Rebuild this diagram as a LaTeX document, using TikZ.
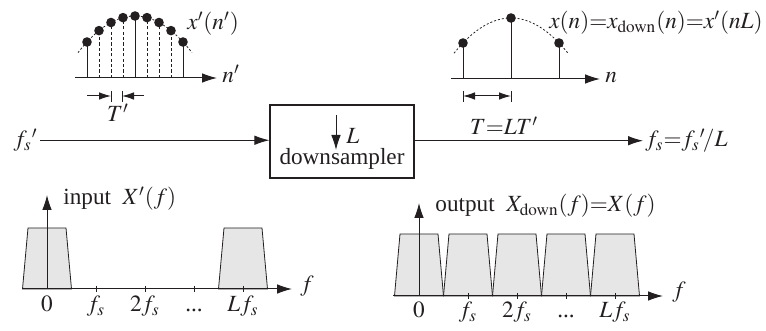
\documentclass[tikz,border=0pt]{standalone}
\usepackage{mathptmx}
\usepackage{fontspec}
\setmainfont{Liberation Serif}
\usetikzlibrary{arrows.meta}
\definecolor{Ink}{HTML}{231F20}
\definecolor{Band}{HTML}{E6E6E6}
\tikzset{
  >={Latex[length=7.5pt,width=4.8pt]},
  every node/.style={text=Ink, inner sep=1pt, font=\fontsize{11.6}{13}\selectfont},
  axis/.style={->, draw=Ink, line width=0.5pt},
  stem/.style={draw=Ink, line width=0.5pt},
  dstem/.style={draw=Ink, line width=0.5pt, dash pattern=on 1.6pt off 1.1pt},
  envelope/.style={draw=Ink, line width=0.4pt, dash pattern=on 1pt off 1pt},
  band/.style={draw=Ink, fill=Band, line width=0.4pt},
  tick/.style={draw=Ink, line width=0.4pt},
  spacing/.style={draw=Ink, line width=0.5pt},
  blockbox/.style={draw=Ink, line width=0.6pt, minimum width=72pt, minimum height=36.5pt},
}

\begin{document}
\begin{tikzpicture}[x=0.5pt,y=-0.5pt]
  \useasboundingbox (0,0) rectangle (766,331);

  % Input sequence at the fast rate; every fourth sample survives.
  \draw[envelope] plot[domain=-57:57,samples=60] ({135+\x},{16+0.01128*\x*\x});
  \foreach \i in {-3,-2,-1,1,2,3}
    \draw[dstem] ({135+12*\i},78) -- ({135+12*\i},{16+1.625*\i*\i});
  \foreach \i in {-4,0,4}
    \draw[stem] ({135+12*\i},78) -- ({135+12*\i},{16+1.625*\i*\i});
  \foreach \i in {-4,...,4}
    \fill[Ink] ({135+12*\i},{16+1.625*\i*\i}) circle[radius=2.4pt];
  \draw[axis] (75,78) -- (217,78);
  \node[anchor=base west] (nin) at (220,83) {$n'$};
  \node[anchor=base west] (xin) at (185,30) {$x'(n')$};

  % Fast sampling interval.
  \draw[tick] (111,91) -- (111,102);
  \draw[tick] (122,91) -- (122,102);
  \draw[spacing, -{Latex[length=6pt,width=3.8pt]}] (87,96) -- (111,96);
  \draw[spacing, -{Latex[length=6pt,width=3.8pt]}] (144,96) -- (122,96);
  \node[anchor=base] (tfast) at (118,122) {$T'$};

  % Output sequence at the slow rate.
  \draw[envelope] plot[domain=-57:57,samples=60] ({511+\x},{18+0.01085*\x*\x});
  \foreach \i in {-1,0,1}
    \draw[stem] ({511+48*\i},79) -- ({511+48*\i},{18+25*\i*\i});
  \foreach \i in {-1,0,1}
    \fill[Ink] ({511+48*\i},{18+25*\i*\i}) circle[radius=2.4pt];
  \draw[axis] (451,79) -- (600,79);
  \node[anchor=base west] (nout) at (603,83) {$n$};
  \node[anchor=base east] (xout) at (765,29)
    {$x(n){=}x_{\mathrm{down}}(n){=}x'(nL)$};

  % Slow sampling interval.
  \draw[tick] (463,91) -- (463,102);
  \draw[tick] (511,91) -- (511,102);
  \draw[spacing, {Latex[length=6pt,width=3.8pt]}-{Latex[length=6pt,width=3.8pt]}]
    (463,96) -- (511,96);
  \node[anchor=base] (tslow) at (504,135) {$T{=}LT'$};

  % The downsampler block and its rates.
  \node[blockbox] (ds) at (342,141.5) {};
  \coordinate (dtop) at (336,115);
  \coordinate (dbot) at (336,150);
  \draw[->, draw=Ink, line width=0.5pt] (dtop) -- (dbot);
  \node[anchor=base west] (factor) at (344,144) {$L$};
  \node[anchor=base] (dslabel) at (342,165) {downsampler};
  \node[anchor=base east] (fin) at (40,147) {${f_s}'$};
  \node[anchor=base west] (fout) at (643,147) {$f_s{=}{f_s}'\!/L$};
  \draw[->, draw=Ink, line width=0.5pt] (fin.east) -- (fin.east -| ds.west);
  \draw[->, draw=Ink, line width=0.5pt] (ds.east |- fout.west) -- (fout.west);

  % Input spectrum: replicas only at multiples of L fs.
  \foreach \c in {47,243}
    \draw[band] ({\c-24.5},289) -- ({\c-19},228) -- ({\c+19},228)
      -- ({\c+24.5},289) -- cycle;
  \draw[axis] (22,289) -- (292,289);
  \draw[axis] (47,289) -- (47,195);
  \foreach \t in {96,145,194,243}
    \draw[tick] (\t,286) -- (\t,292);
  \node[anchor=base west] (fa) at (298,292) {$f$};
  \node[anchor=base] (a0) at (47,312) {$0$};
  \node[anchor=base] (a1) at (96,312) {$f_s$};
  \node[anchor=base] (a2) at (145,312) {$2f_s$};
  \node[anchor=base] (a3) at (194,312) {...};
  \node[anchor=base] (a4) at (243,312) {$Lf_s$};
  \node[anchor=base west] (spin) at (61,205) {input\enspace$X'(f)$};

  % Output spectrum: replicas at every multiple of fs.
  \foreach \c in {419,468,517,566,615}
    \draw[band] ({\c-24.5},296) -- ({\c-19},234) -- ({\c+19},234)
      -- ({\c+24.5},296) -- cycle;
  \draw[axis] (393,296) -- (663,296);
  \draw[axis] (419,296) -- (419,203);
  \foreach \t in {468,517,566,615}
    \draw[tick] (\t,293) -- (\t,299);
  \node[anchor=base west] (fb) at (670,298) {$f$};
  \node[anchor=base] (b0) at (419,318) {$0$};
  \node[anchor=base] (b1) at (468,318) {$f_s$};
  \node[anchor=base] (b2) at (517,318) {$2f_s$};
  \node[anchor=base] (b3) at (566,318) {...};
  \node[anchor=base] (b4) at (615,318) {$Lf_s$};
  \node[anchor=base west] (spout) at (433,212)
    {output\enspace$X_{\mathrm{down}}(f){=}X(f)$};
\end{tikzpicture}
\end{document}
